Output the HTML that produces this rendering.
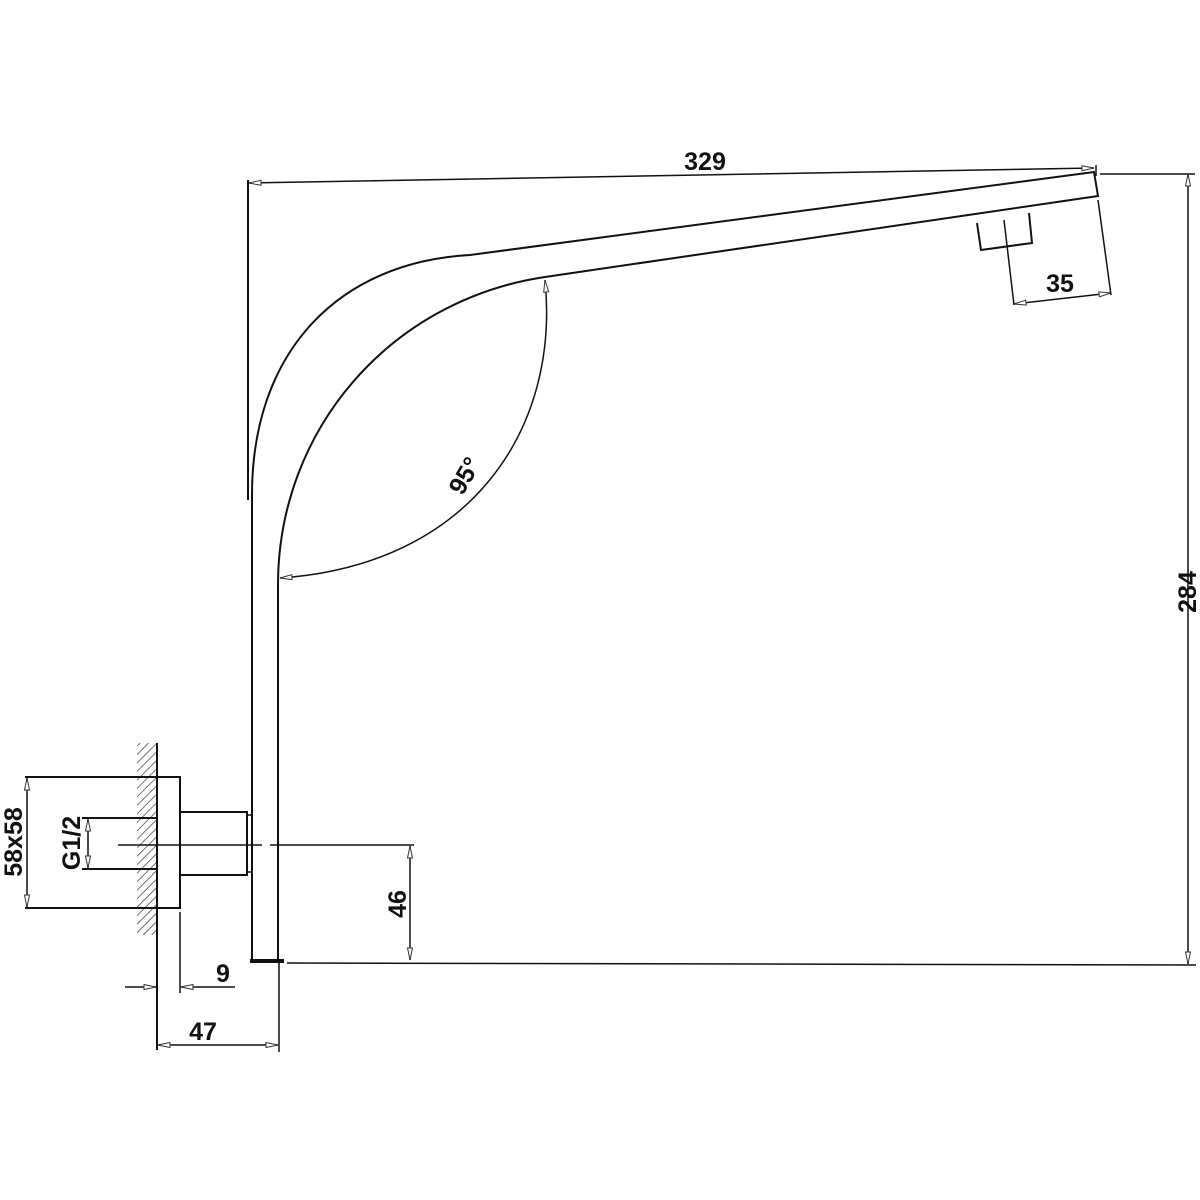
<!DOCTYPE html>
<html><head><style>body{margin:0;background:#fff}svg{display:block}text{font-family:"Liberation Sans",sans-serif;font-weight:bold;font-size:25px;fill:#111}</style></head>
<body>
<svg width="1200" height="1200" viewBox="0 0 1200 1200" xmlns="http://www.w3.org/2000/svg">
<defs>
<pattern id="h" width="6" height="6" patternUnits="userSpaceOnUse" patternTransform="rotate(45)"><line x1="0" y1="0" x2="0" y2="6" stroke="#444" stroke-width="1.5"/></pattern>
<marker id="a" markerWidth="14" markerHeight="8" refX="13" refY="4" orient="auto-start-reverse" markerUnits="userSpaceOnUse"><path d="M13,4 L1,1.5 L1,6.5 Z" fill="#fff" stroke="#333" stroke-width="1"/></marker>
</defs>
<g stroke="#111" stroke-width="2" fill="none">
<path d="M252,960 L252,495 C252,350 340,262 470,255 L1094,172 L1098,196 L545,277 C390,300 278,430 278,585 L278,960"/>
<line x1="250" y1="961" x2="284" y2="961" stroke-width="4"/>
<line x1="248" y1="180" x2="248" y2="500"/>
<path d="M977,223 L981,250 L1032,243 L1029,213"/>
<line x1="1004" y1="220" x2="1014" y2="305" stroke-width="1.5"/>
<line x1="1098" y1="200" x2="1111" y2="295" stroke-width="1.5"/>
<line x1="1014" y1="304" x2="1111" y2="293" stroke-width="1.5" marker-start="url(#a)" marker-end="url(#a)"/>
<line x1="249" y1="183" x2="1094" y2="168" stroke-width="1.5" marker-start="url(#a)" marker-end="url(#a)"/>
<line x1="1096" y1="165" x2="1096" y2="176" stroke-width="1.5"/>
<line x1="1100" y1="174" x2="1195" y2="174" stroke-width="1.5"/>
<line x1="1188" y1="174" x2="1188" y2="964" stroke-width="1.5" marker-start="url(#a)" marker-end="url(#a)"/>
<line x1="287" y1="963" x2="1196" y2="965" stroke-width="1.5"/>
<path d="M545,280 C560,430 470,565 280,578" stroke-width="1.5" marker-start="url(#a)" marker-end="url(#a)"/>
<rect x="137" y="743" width="20" height="192" fill="url(#h)" stroke="none"/>
<line x1="157" y1="743" x2="157" y2="1050" stroke-width="2"/>
<path d="M25,777 L180,777 L180,908 L25,908"/>
<line x1="27" y1="778" x2="27" y2="907" stroke-width="1.5" marker-start="url(#a)" marker-end="url(#a)"/>
<path d="M82,818 L157,818 M82,869 L157,869" />
<line x1="88" y1="819" x2="88" y2="868" stroke-width="1.5" marker-start="url(#a)" marker-end="url(#a)"/>
<path d="M180,812 L247,812 L247,875 L180,875"/>
<path d="M247,815 L252,815 M247,872 L252,872" stroke-width="1.5"/>
<line x1="118" y1="845" x2="262" y2="845" stroke-width="1.5"/>
<line x1="270" y1="845" x2="414" y2="845" stroke-width="1.5"/>
<line x1="410" y1="846" x2="410" y2="960" stroke-width="1.5" marker-start="url(#a)" marker-end="url(#a)"/>
<line x1="180" y1="912" x2="180" y2="993" stroke-width="1.5"/>
<line x1="125" y1="987" x2="156" y2="987" stroke-width="1.5" marker-end="url(#a)"/>
<line x1="235" y1="987" x2="181" y2="987" stroke-width="1.5" marker-end="url(#a)"/>
<line x1="279" y1="960" x2="279" y2="1052" stroke-width="1.5"/>
<line x1="158" y1="1045" x2="278" y2="1045" stroke-width="1.5" marker-start="url(#a)" marker-end="url(#a)"/>
</g>
<text x="705" y="170" text-anchor="middle">329</text>
<text x="1060" y="292" text-anchor="middle">35</text>
<text transform="translate(1196,592) rotate(-90)" text-anchor="middle">284</text>
<text transform="translate(472,480) rotate(-60)" text-anchor="middle">95°</text>
<text transform="translate(22,842) rotate(-90)" text-anchor="middle">58x58</text>
<text transform="translate(80,843) rotate(-90)" text-anchor="middle">G1/2</text>
<text transform="translate(406,904) rotate(-90)" text-anchor="middle">46</text>
<text x="223" y="982" text-anchor="middle">9</text>
<text x="203" y="1040" text-anchor="middle">47</text>
</svg>
</body></html>
